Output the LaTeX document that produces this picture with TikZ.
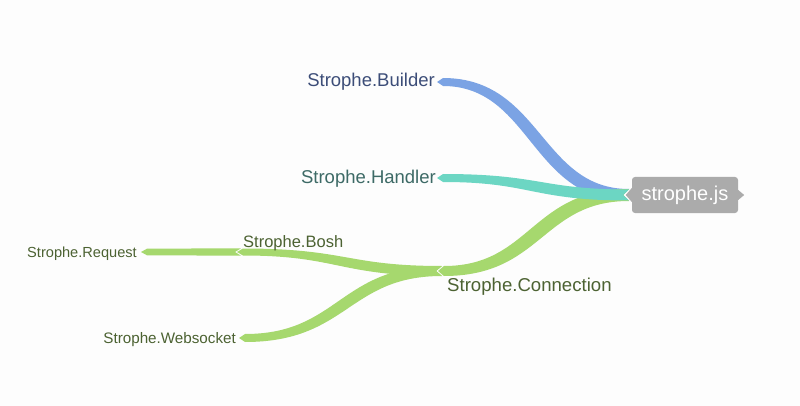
\documentclass[tikz,border=0pt]{standalone}
\usepackage{fontspec}
\setmainfont{Liberation Sans}
\usetikzlibrary{calc}
\definecolor{bgc}{HTML}{FDFDFD}
\definecolor{bluebr}{HTML}{7BA3E4}
\definecolor{tealbr}{HTML}{6CD6C3}
\definecolor{greenbr}{HTML}{A6D86E}
\definecolor{rootc}{HTML}{ABABAB}
\definecolor{bluetx}{HTML}{3C4D78}
\definecolor{tealtx}{HTML}{3D6A66}
\definecolor{greentx}{HTML}{4C6232}
\newcommand\mmbranch[6]{%
  \pgfmathsetmacro\bwp{(#6)*(#4+#5)/2}%
  \pgfmathsetmacro\bwn{0-\bwp}%
  \path (#3) ++(6,0) coordinate (bE);
  \path ($(#2)!0.5!(bE)$) coordinate (bM);
  \fill[#1] ($(#2)+(0,-#4)$)
    .. controls ($(bM |- #2)+(\bwp,-#4)$) and ($(bM |- bE)+(\bwp,-#5)$) .. ($(bE)+(0,-#5)$)
    -- (#3)
    -- ($(bE)+(0,#5)$)
    .. controls ($(bM |- bE)+(\bwn,#5)$) and ($(bM |- #2)+(\bwn,#4)$) .. ($(#2)+(0,#4)$)
    -- ($(#2)+(-6,0)$) -- cycle;
}
\tikzset{
  lbl/.style={inner sep=0pt, font=\fontsize{#1}{#1}\selectfont},
  rootbox/.style={fill=rootc, rounded corners=3pt, minimum width=106pt, minimum height=36pt, inner sep=0pt, text=white, font=\fontsize{20}{20}\selectfont}
}
\begin{document}
\begin{tikzpicture}[x=1pt,y=-1pt]
\fill[bgc] (0,0) rectangle (800,406);
\useasboundingbox (0,0) rectangle (800,406);
% node points
\coordinate (rootL) at (629,195);
\coordinate (builderT) at (437,82);
\coordinate (handlerT) at (437,178);
\coordinate (connT) at (438,271);
\coordinate (connO) at (442,271);
\coordinate (boshT) at (237,252);
\coordinate (boshO) at (241,252);
\coordinate (requestT) at (141,252);
\coordinate (websockT) at (239,338);
% branches
\mmbranch{bluebr}{rootL}{builderT}{6}{4}{1}
\mmbranch{greenbr}{rootL}{connT}{6}{5}{-1}
\mmbranch{tealbr}{rootL}{handlerT}{5.5}{4}{1}
\mmbranch{greenbr}{connO}{boshT}{5}{3.5}{1}
\mmbranch{greenbr}{connO}{websockT}{5}{4}{-1}
\mmbranch{greenbr}{boshO}{requestT}{3.7}{3.3}{-1}
% root
\node[rootbox] (root) at (685,195) {strophe.js};
\fill[rootc] ($(root.west)+(0,-7)$) -- ($(root.west)+(-6,0)$) -- ($(root.west)+(0,7)$) -- cycle;
\fill[rootc] ($(root.east)+(0,-5)$) -- ($(root.east)+(6,0)$) -- ($(root.east)+(0,5)$) -- cycle;
% labels
\node[lbl=18.5, text=bluetx, anchor=base east] (builder) at (435,87) {Strophe.Builder};
\node[lbl=18.5, text=tealtx, anchor=base east] (handler) at (436,184) {Strophe.Handler};
\node[lbl=18.6, text=greentx, anchor=base west] (conn) at (447,291) {Strophe.Connection};
\node[lbl=16.5, text=greentx, anchor=base west] (bosh) at (243,247) {Strophe.Bosh};
\node[lbl=14.6, text=greentx, anchor=base east] (request) at (137,257) {Strophe.Request};
\node[lbl=15.2, text=greentx, anchor=base east] (websock) at (236,343) {Strophe.Websocket};
\end{tikzpicture}
\end{document}
